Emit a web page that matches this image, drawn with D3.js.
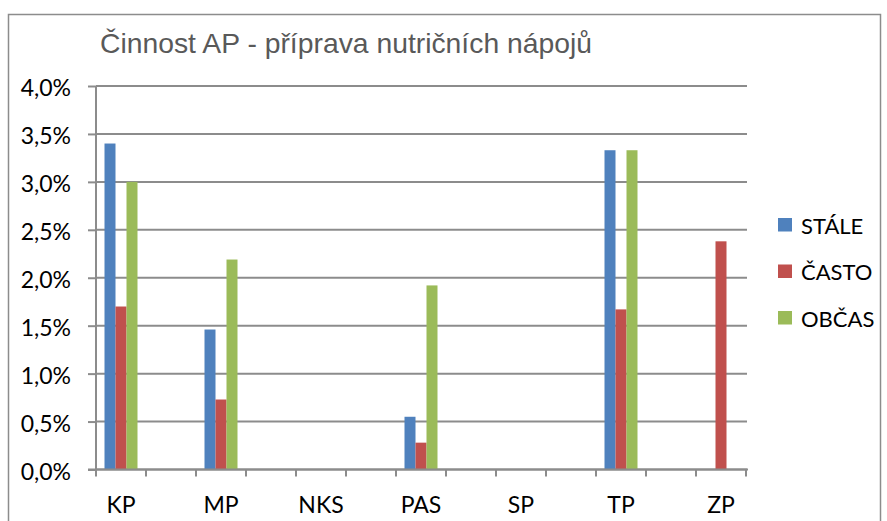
<!DOCTYPE html>
<html>
<head>
<meta charset="utf-8">
<script src="https://cdn.jsdelivr.net/npm/d3@7"></script>
<style>
  body { margin: 0; background: #fff; }
</style>
</head>
<body>
<div class="chart"></div>
<script>
var categories = ["KP", "MP", "NKS", "PAS", "SP", "TP", "ZP"];
var seriesNames = ["STÁLE", "ČASTO", "OBČAS"];
var stale = [0.0340, 0.0146, 0, 0.0055, 0, 0.0333, 0];
var casto = [0.0170, 0.0073, 0, 0.0028, 0, 0.0167, 0.0238];
var obcas = [0.0300, 0.0219, 0, 0.0192, 0, 0.0333, 0];
var yTicks = [0, 0.005, 0.01, 0.015, 0.02, 0.025, 0.03, 0.035, 0.04];
var colors = ["#4F81BD", "#C0504D", "#9BBB59"];
var title = "Činnost AP - příprava nutričních nápojů";

var width = 887, height = 521;
var plot = {left: 96, right: 747, top: 86, bottom: 469.5};

var svg = d3.select(".chart")
            .append("svg")
            .attr("width", width)
            .attr("height", height);

// outer chart border
svg.append("rect")
    .attr("x", 8.5).attr("y", 14.5)
    .attr("width", 872).attr("height", 520)
    .attr("fill", "none")
    .attr("stroke", "#8c8c8c")
    .attr("stroke-width", 1.5);

svg.append("text")
    .attr("x", 100)
    .attr("y", 52.5)
    .attr("fill", "#595959")
    .attr("textLength", 492)
    .attr("lengthAdjust", "spacingAndGlyphs")
    .style("font-family", "'Liberation Sans', Arial, sans-serif")
    .style("font-size", "28.5px")
    .text(title);

var locale = d3.formatLocale({decimal: ",", thousands: " ", grouping: [3], currency: ["", ""]});
var fmt = locale.format(".1%");

var y = d3.scaleLinear().domain([0, 0.04]).range([plot.bottom, plot.top]);

var x = d3.scaleBand()
          .domain(categories)
          .range([plot.left, plot.left + 650])
          .paddingInner(0.5)
          .paddingOuter(0);

var xi = d3.scaleBand()
           .domain(seriesNames)
           .range([8.5, x.bandwidth() - 8.5]);

// gridlines
svg.append("g")
    .attr("class", "grid")
  .selectAll("line")
    .data(yTicks)
  .enter().append("line")
    .attr("x1", plot.left).attr("x2", plot.right)
    .attr("y1", function(d) { return y(d); })
    .attr("y2", function(d) { return y(d); })
    .attr("stroke", "#8c8c8c")
    .attr("stroke-width", 2);

// bars
var rows = categories.map(function(c, i) {
  return {cat: c, values: [stale[i], casto[i], obcas[i]]};
});

svg.append("g")
    .attr("class", "bars")
  .selectAll("g")
    .data(rows)
  .enter().append("g")
    .attr("transform", function(d) { return "translate(" + x(d.cat) + ",0)"; })
  .selectAll("rect")
    .data(function(d) {
      return d.values.map(function(v, j) { return {name: seriesNames[j], v: v, j: j}; })
                     .filter(function(e) { return e.v > 0; });
    })
  .enter().append("rect")
    .attr("x", function(d) { return xi(d.name); })
    .attr("width", xi.bandwidth())
    .attr("y", function(d) { return y(d.v); })
    .attr("height", function(d) { return y(0) - y(d.v); })
    .attr("fill", function(d) { return colors[d.j]; });

// y axis
var yAxis = svg.append("g")
    .attr("transform", "translate(" + plot.left + ",0)")
    .call(d3.axisLeft(y).tickValues(yTicks).tickFormat(fmt).tickSize(8).tickPadding(17));

yAxis.select(".domain").attr("stroke", "#8c8c8c").attr("stroke-width", 2)
    .attr("d", "M0," + plot.top + "V" + plot.bottom);
yAxis.selectAll(".tick line").attr("stroke", "#8c8c8c").attr("stroke-width", 2);
yAxis.selectAll(".tick text")
    .attr("dy", "0.42em")
    .attr("fill", "#000")
    .style("font-family", "Lato, 'Open Sans', sans-serif")
    .style("font-size", "23px");

// x axis: ticks at every half step
var xTickPos = [];
categories.forEach(function(c) {
  xTickPos.push(x(c));
  xTickPos.push(x(c) + x.bandwidth());
});

var xAxis = svg.append("g")
    .attr("class", "x-axis");

xAxis.append("line")
    .attr("x1", plot.left - 8).attr("x2", plot.right + 1)
    .attr("y1", plot.bottom).attr("y2", plot.bottom)
    .attr("stroke", "#8c8c8c")
    .attr("stroke-width", 2);

xAxis.selectAll("line.tick")
    .data(xTickPos)
  .enter().append("line")
    .attr("class", "tick")
    .attr("x1", function(d) { return d; })
    .attr("x2", function(d) { return d; })
    .attr("y1", plot.bottom)
    .attr("y2", plot.bottom + 7)
    .attr("stroke", "#8c8c8c")
    .attr("stroke-width", 2);

xAxis.selectAll("text")
    .data(categories)
  .enter().append("text")
    .attr("x", function(d) { return x(d) + x.bandwidth() / 2; })
    .attr("y", 512.5)
    .attr("text-anchor", "middle")
    .style("font-family", "Lato, 'Open Sans', sans-serif")
    .style("font-size", "23px")
    .text(function(d) { return d; });

// legend
var legend = svg.append("g")
    .attr("class", "legend")
  .selectAll("g")
    .data(seriesNames)
  .enter().append("g")
    .attr("transform", function(d, i) { return "translate(778," + (225 + i * 46.5) + ")"; });

legend.append("rect")
    .attr("x", 0).attr("y", -7)
    .attr("width", 14).attr("height", 13.5)
    .attr("fill", function(d, i) { return colors[i]; });

legend.append("text")
    .attr("x", 23)
    .attr("y", 8.5)
    .style("font-family", "Lato, 'Open Sans', sans-serif")
    .style("font-size", "22px")
    .text(function(d) { return d; });
</script>
</body>
</html>
